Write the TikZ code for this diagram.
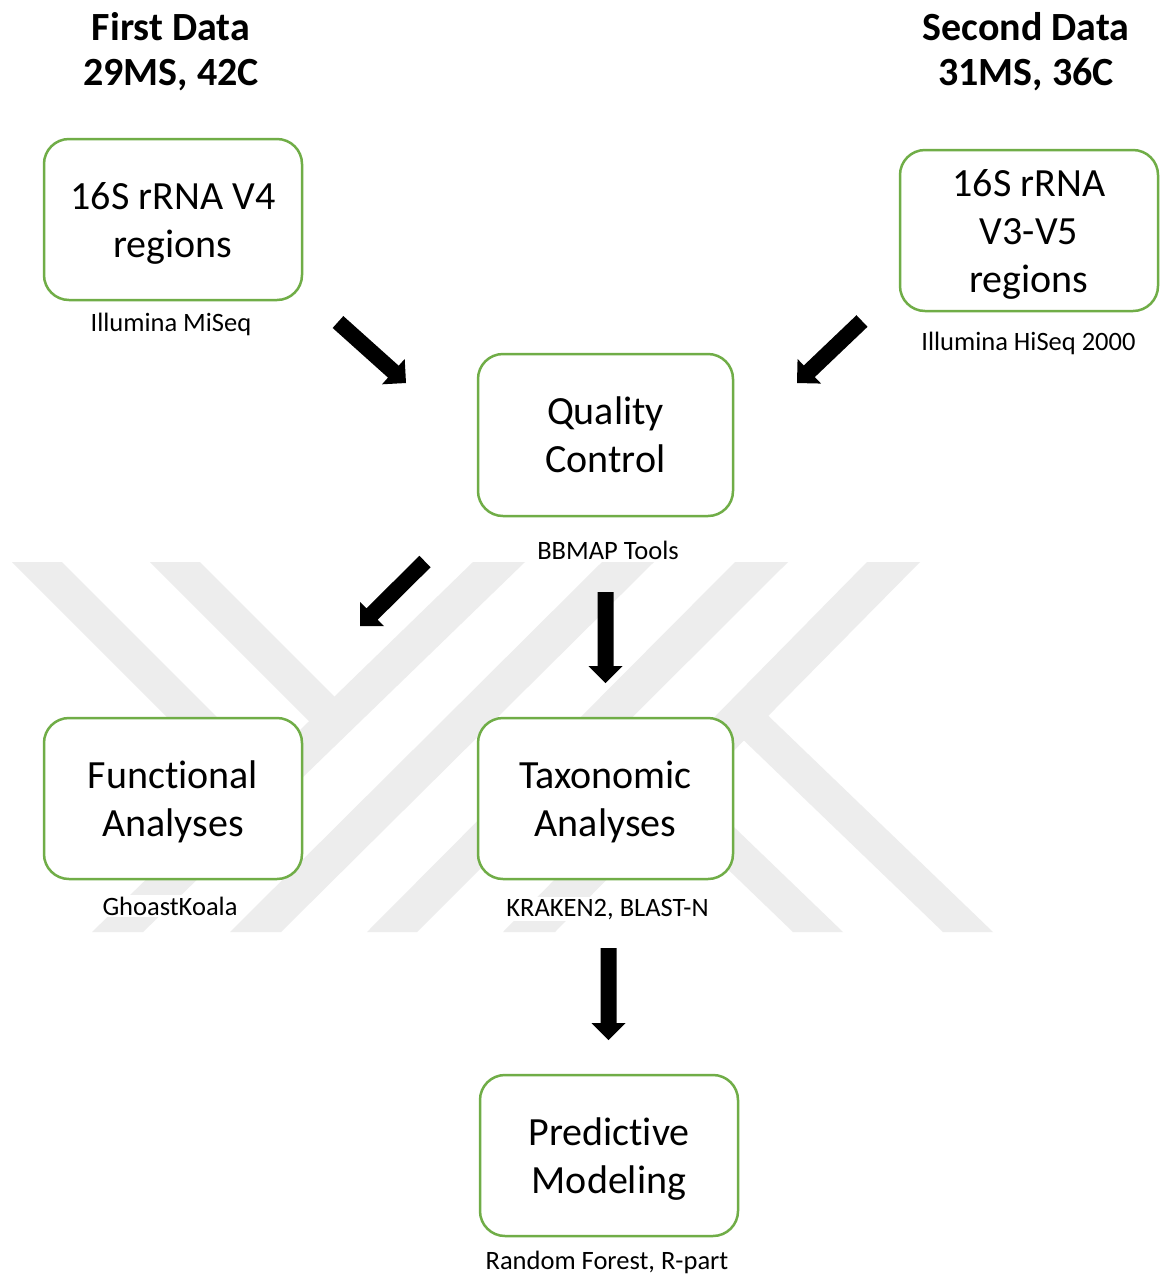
\documentclass[tikz,border=0pt]{standalone}
\usepackage{fontspec}
\setmainfont{Carlito}[Ligatures=NoCommon]
\usetikzlibrary{calc}

\definecolor{boxgreen}{RGB}{112,173,71}
\definecolor{markgray}{RGB}{237,237,237}

% Filled block arrow from #1 (tail) to #2 (tip)
\newcommand\flowarrow[2]{%
  \coordinate (fa-neck) at ($(#2)!17pt!(#1)$);
  \fill[arrowfill]
    ($(#1)!8pt!90:(#2)$) -- ($(fa-neck)!8pt!-90:(#1)$) -- ($(fa-neck)!17pt!-90:(#1)$)
    -- (#2) --
    ($(fa-neck)!17pt!90:(#1)$) -- ($(fa-neck)!8pt!90:(#1)$) -- ($(#1)!8pt!-90:(#2)$) -- cycle;
}

\begin{document}
\begin{tikzpicture}[x=1pt, y=-1pt,
  stepbox/.style={draw=boxgreen, line width=2.5pt, rounded corners=25pt, fill=white,
    minimum width=258pt, minimum height=161pt, align=center, inner sep=0pt,
    text depth=0pt, font=\fontsize{40}{48}\selectfont},
  toollabel/.style={fill=white, inner xsep=3pt, inner ysep=2pt, anchor=base,
    font=\fontsize{26.5}{30}\selectfont},
  datatitle/.style={align=center, inner sep=0pt, font=\bfseries\fontsize{40}{45}\selectfont},
  arrowfill/.style={fill=black},
  watermark/.style={fill=markgray}]

\useasboundingbox (0,0) rectangle (1160,1278);
\fill[white] (0,0) rectangle (1160,1278);

% background emblem made of light diagonal bands
\begin{scope}
  \clip (0,562) rectangle (1160,932);
  \fill[watermark] (473,562) -- (525,562) -- (143,932) -- (92,932) -- cycle;
  \fill[watermark] (602,562) -- (654,562) -- (281,932) -- (230,932) -- cycle;
  \fill[watermark] (735,562) -- (788,562) -- (417,932) -- (367,932) -- cycle;
  \fill[watermark] (867,562) -- (920,562) -- (555,932) -- (503,932) -- cycle;
  \fill[watermark] (12,562) -- (62,562) -- (277,777) -- (252,802) -- cycle;
  \fill[watermark] (150,562) -- (200,562) -- (347,709) -- (322,734) -- cycle;
  \fill[watermark] (943,932) -- (993,932) -- (755,703) -- (731,728) -- cycle;
  \fill[watermark] (793,932) -- (843,932) -- (682,777) -- (658,802) -- cycle;
\end{scope}

% titles of the two data sets
\node[datatitle] (first)  at (171,52)  {First Data\\29MS, 42C};
\node[datatitle] (second) at (1026,52) {Second Data\\31MS, 36C};

% process steps
\node[stepbox] (v4)   at (173,219.5)   {16S rRNA V4\\regions};
\node[stepbox] (v35)  at (1029,230.5)  {16S rRNA\\V3-V5\\regions};
\node[stepbox, minimum width=255pt, minimum height=162pt] (qc) at (605.5,435) {Quality\\Control};
\node[stepbox] (func) at (173,798.5)   {Functional\\Analyses};
\node[stepbox, minimum width=255pt] (tax) at (605.5,798.5) {Taxonomic\\Analyses};
\node[stepbox] (pred) at (609,1155.5)  {Predictive\\Modeling};

% tools used at each step
\node[toollabel] (v4tool)   at (171,331)    {Illumina MiSeq};
\node[toollabel] (v35tool)  at (1028.5,350) {Illumina HiSeq 2000};
\node[toollabel] (qctool)   at (608,559)    {BBMAP Tools};
\node[toollabel] (functool) at (170,915)    {GhoastKoala};
\node[toollabel] (taxtool)  at (607.5,916)  {KRAKEN2, BLAST-N};
\node[toollabel] (predtool) at (607,1269)   {Random Forest, R-part};

% arrow end points
\coordinate (v4out)   at (338,322);
\coordinate (qcinl)   at (406,383);
\coordinate (v35out)  at (862,321);
\coordinate (qcinr)   at (797,383);
\coordinate (qcoutl)  at (425,561.5);
\coordinate (funcin)  at (360,626);
\coordinate (qcoutd)  at (605.5,592);
\coordinate (taxin)   at (605.5,683);
\coordinate (taxout)  at (608.5,948);
\coordinate (predin)  at (608.5,1040);

\flowarrow{v4out}{qcinl}
\flowarrow{v35out}{qcinr}
\flowarrow{qcoutl}{funcin}
\flowarrow{qcoutd}{taxin}
\flowarrow{taxout}{predin}

\end{tikzpicture}
\end{document}
